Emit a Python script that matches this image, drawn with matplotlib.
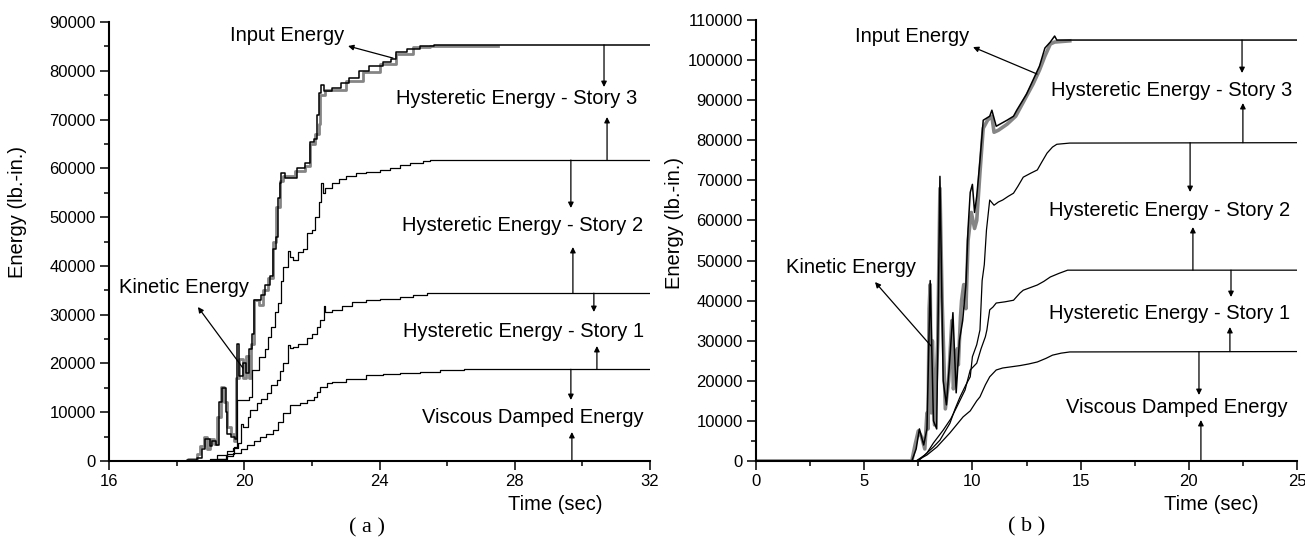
import matplotlib
matplotlib.use("Agg")
import matplotlib.pyplot as plt
from matplotlib.ticker import MultipleLocator

plt.rcParams["font.family"] = ["Liberation Sans", "DejaVu Sans"]

# ── Panel (a): cumulative energies, 16-32 s ─────────────────────────────────────
a_input_t = [16, 18.2, 18.3, 18.6, 18.75, 18.85, 19.0, 19.05, 19.15, 19.25, 19.35, 19.45, 19.5, 19.6,
             19.72, 19.78, 19.85, 19.95, 20.05, 20.15, 20.22, 20.28, 20.5, 20.6, 20.75, 20.85, 20.95,
             21.0, 21.05, 21.1, 21.2, 21.55, 21.8, 21.95, 22.05, 22.15, 22.22, 22.28, 22.35, 22.6,
             22.85, 23.1, 23.4, 23.7, 24.1, 24.35, 24.5, 24.8, 25.2, 25.6, 32]
a_input_e = [0, 0, 300, 600, 2500, 4500, 3000, 4000, 3200, 12000, 15000, 10000, 5500, 5000,
             4500, 24000, 17500, 20000, 18000, 23000, 26000, 33000, 34000, 36000, 38000, 43500, 46000,
             54000, 57000, 59000, 58000, 60000, 61000, 65500, 66000, 71000, 75500, 77000, 75800, 76500,
             77500, 78500, 80000, 81000, 81800, 82500, 83800, 84500, 85000, 85300, 85300]

a_gray_t = [16, 18.2, 18.35, 18.6, 18.7, 18.8, 18.9, 19.0, 19.1, 19.2, 19.3, 19.4, 19.5, 19.6, 19.7,
            19.75, 19.85, 19.95, 20.05, 20.15, 20.2, 20.3, 20.45, 20.55, 20.7, 20.85, 20.95, 21.05,
            21.15, 21.5, 21.8, 21.95, 22.1, 22.2, 22.25, 22.4, 23.0, 23.5, 24.0, 24.5, 25.0, 25.5, 27.5]
a_gray_e = [0, 0, 500, 1500, 3000, 5000, 2500, 4500, 3500, 9000, 15200, 12000, 7000, 5500, 4000,
            17000, 21000, 17000, 21500, 17000, 24000, 33000, 32000, 35000, 37500, 45000, 52000, 57500,
            58500, 59500, 60500, 65000, 67000, 69000, 75000, 76000, 78000, 79800, 81300, 83500, 84800,
            85100, 85100]

a_he2_t = [16, 18.8, 19.2, 19.5, 19.7, 19.8, 20.15, 20.22, 20.45, 20.6, 20.7, 20.8, 20.9, 21.0, 21.1,
           21.15, 21.3, 21.35, 21.45, 21.6, 21.75, 21.85, 22.0, 22.1, 22.2, 22.28, 22.32, 22.4, 22.6,
           22.8, 23.0, 23.3, 23.6, 24.0, 24.3, 24.6, 24.9, 25.3, 25.5, 32]
a_he2_e = [0, 0, 500, 1500, 2900, 12500, 13100, 18700, 21300, 23000, 25400, 27500, 30500, 32400, 37000,
           39800, 43000, 41800, 41200, 42800, 43500, 46700, 47400, 50000, 53000, 57000, 55000, 56000, 57000,
           57800, 58500, 59000, 59300, 59700, 60100, 60600, 61100, 61600, 61700, 61700]

a_he1_t = [16, 18.8, 19.0, 19.2, 19.5, 19.67, 19.82, 19.9, 19.97, 20.1, 20.17, 20.37, 20.5, 20.67,
           20.8, 20.97, 21.05, 21.15, 21.3, 21.35, 21.45, 21.6, 21.85, 22.0, 22.15, 22.25, 22.35, 22.4,
           22.6, 22.9, 23.2, 23.6, 24.0, 24.6, 25.0, 25.4, 32]
a_he1_e = [0, 0, 500, 1200, 2000, 2700, 3700, 7500, 7000, 9000, 10500, 11900, 12800, 13900,
           15500, 16600, 18500, 20100, 23800, 23200, 23400, 24000, 25200, 26000, 27500, 28900, 31800, 30500,
           31000, 31800, 32500, 33000, 33300, 33600, 34000, 34400, 34400]

a_visc_t = [16, 18.9, 19.2, 19.45, 19.67, 19.9, 20.08, 20.3, 20.47, 20.65, 20.85, 21.0, 21.15, 21.35,
            21.65, 21.85, 22.05, 22.15, 22.25, 22.45, 22.6, 23.0, 23.6, 24.1, 24.6, 25.2, 25.8, 26.5, 32]
a_visc_e = [0, 0, 400, 1000, 1600, 2500, 3300, 4200, 4900, 5500, 6300, 8000, 9800, 11500,
            11900, 12500, 13100, 14200, 15200, 16000, 16200, 16900, 17600, 17900, 18000, 18300, 18600, 18800, 18800]

# ── Panel (b): cumulative energies, 0-25 s ──────────────────────────────────────
b_input_t = [0, 7.2, 7.4, 7.55, 7.75, 7.9, 8.05, 8.2, 8.35, 8.5, 8.65, 8.8, 8.95, 9.1, 9.25, 9.4,
             9.55, 9.7, 9.8, 9.9, 10.0, 10.1, 10.2, 10.35, 10.5, 10.8, 10.9, 11.1, 11.6, 11.9, 12.05,
             12.5, 12.8, 13.1, 13.35, 13.6, 13.8, 13.9, 25]
b_input_e = [0, 0, 3000, 8000, 4000, 8000, 45000, 10000, 8000, 71000, 20000, 14000, 25000, 37000, 17000, 30000,
             35000, 44000, 58000, 67000, 69000, 62000, 66000, 75000, 85000, 86000, 87500, 83500, 85000, 86000, 87500,
             91500, 95000, 98500, 103000, 104500, 106000, 105000, 105000]

b_gray_t = [0, 7.2, 7.35, 7.5, 7.65, 7.8, 7.9, 7.95, 8.0, 8.05, 8.1, 8.15, 8.25, 8.4, 8.5, 8.6, 8.75,
            8.9, 9.0, 9.05, 9.12, 9.2, 9.3, 9.35, 9.45, 9.5, 9.6, 9.7, 9.8, 9.95, 10.1, 10.2, 10.35,
            10.5, 10.7, 10.9, 11.0, 11.2, 11.6, 12.0, 12.4, 12.8, 13.1, 13.35, 13.6, 13.8, 14.5]
b_gray_e = [0, 0, 4000, 7500, 6000, 3000, 12000, 8000, 38000, 44000, 12000, 30000, 9000, 30000, 68000, 40000, 13000,
            20000, 30000, 35000, 18000, 20000, 28000, 24000, 36000, 40000, 44000, 38000, 55000, 62000, 58000, 60000, 72000,
            83000, 85000, 86000, 82000, 82500, 84000, 86000, 90000, 94000, 97500, 101000, 104000, 104500, 104800]

b_he2_t = [0, 7.4, 7.8, 8.2, 8.5, 8.75, 8.96, 9.2, 9.43, 9.7, 9.9, 10.0, 10.2, 10.35, 10.45, 10.55, 10.65,
           10.8, 11.0, 11.2, 11.4, 11.65, 11.9, 12.1, 12.35, 12.7, 13.0, 13.2, 13.45, 13.7, 13.9, 14.5, 25]
b_he2_e = [0, 0, 1500, 3500, 5200, 7500, 9400, 13000, 16000, 19000, 21000, 26000, 29000, 32700, 45000, 49000, 57600,
           65100, 63800, 64600, 65100, 66000, 66800, 68500, 70800, 71800, 72600, 74500, 76800, 78300, 79000, 79300, 79400]

b_he1_t = [0, 7.5, 7.9, 8.2, 8.65, 9.0, 9.28, 9.66, 9.9, 10.2, 10.4, 10.6, 10.67, 10.8, 10.95, 11.1, 11.5,
           11.9, 12.2, 12.35, 13.0, 13.3, 13.6, 14.0, 14.4, 25]
b_he1_e = [0, 0, 2000, 4500, 7700, 10500, 13500, 17700, 22700, 24400, 28000, 31000, 32700, 37700, 38400, 39400, 39700,
           40100, 41900, 42600, 43900, 44800, 45900, 46800, 47600, 47600]

b_visc_t = [0, 7.4, 7.9, 8.36, 8.96, 9.57, 9.9, 10.2, 10.35, 10.6, 10.8, 11.1, 11.4, 12.2, 12.6, 13.0,
            13.4, 13.7, 14.1, 14.5, 25]
b_visc_e = [0, 0, 1500, 3500, 7000, 11000, 12500, 15000, 16000, 19000, 21000, 22700, 23200, 23800, 24200, 24700,
            25600, 26400, 26900, 27200, 27300]

GRAY = "#858585"
W, H = 1305, 538


def style_axes(ax, xlim, ylim, xmaj, xmin):
    ax.set_xlim(*xlim)
    ax.set_ylim(*ylim)
    ax.xaxis.set_major_locator(MultipleLocator(xmaj))
    ax.xaxis.set_minor_locator(MultipleLocator(xmin))
    ax.yaxis.set_major_locator(MultipleLocator(10000))
    ax.yaxis.set_minor_locator(MultipleLocator(5000))
    for s in ["top", "right"]:
        ax.spines[s].set_visible(False)
    for s in ["left", "bottom"]:
        ax.spines[s].set_linewidth(1.5)
    ax.tick_params(which="major", direction="out", length=6.5, width=1.1, labelsize=12, pad=3)
    ax.tick_params(which="minor", direction="out", length=3.5, width=1.1)


def arrow(ax, head, tail):
    ax.annotate("", xy=head, xytext=tail,
                arrowprops=dict(arrowstyle="-|>", color="black", lw=0.9, mutation_scale=8,
                                shrinkA=0, shrinkB=0))


fig = plt.figure(figsize=(W / 100, H / 100), dpi=100)

# ── (a) ──────────────────────────────────────────────────────────────────────────
ax1 = fig.add_axes([109 / W, 77 / H, 541 / W, 439 / H])
ax1.plot(a_gray_t, a_gray_e, color=GRAY, lw=2.0, drawstyle="steps-post")
ax1.plot(a_input_t, a_input_e, color="black", lw=1.1, drawstyle="steps-post")
for t, e in [(a_he2_t, a_he2_e), (a_he1_t, a_he1_e), (a_visc_t, a_visc_e)]:
    ax1.plot(t, e, color="black", lw=0.9, drawstyle="steps-post")
style_axes(ax1, (16, 32), (0, 90000), 4, 2)

fs = 14.5
ax1.text(21.26, 87330, "Input Energy", ha="center", va="center", fontsize=fs)
arrow(ax1, (23.07, 85080), (24.40, 82600))
ax1.text(28.07, 74400, "Hysteretic Energy - Story 3", ha="center", va="center", fontsize=fs)
arrow(ax1, (30.64, 76670), (30.64, 85300))
arrow(ax1, (30.73, 70520), (30.73, 61700))
ax1.text(28.24, 48180, "Hysteretic Energy - Story 2", ha="center", va="center", fontsize=fs)
arrow(ax1, (29.66, 51870), (29.66, 61700))
arrow(ax1, (29.72, 43870), (29.72, 34400))
ax1.text(28.27, 26650, "Hysteretic Energy - Story 1", ha="center", va="center", fontsize=fs)
arrow(ax1, (30.34, 30545), (30.34, 34400))
arrow(ax1, (30.43, 23575), (30.43, 18800))
ax1.text(28.54, 9020, "Viscous Damped Energy", ha="center", va="center", fontsize=fs)
arrow(ax1, (29.66, 12505), (29.66, 18800))
arrow(ax1, (29.69, 5945), (29.69, 0))
ax1.text(18.22, 35670, "Kinetic Energy", ha="center", va="center", fontsize=fs)
arrow(ax1, (18.63, 31570), (19.96, 19065))

# ── (b) ──────────────────────────────────────────────────────────────────────────
ax2 = fig.add_axes([756 / W, 77 / H, 541 / W, 441 / H])
ax2.plot(b_gray_t, b_gray_e, color=GRAY, lw=2.6)
ax2.plot(b_input_t, b_input_e, color="black", lw=1.1)
for t, e in [(b_he2_t, b_he2_e), (b_he1_t, b_he1_e), (b_visc_t, b_visc_e)]:
    ax2.plot(t, e, color="black", lw=0.9)
style_axes(ax2, (0, 25), (0, 110000), 5, 2.5)

ax2.text(7.21, 106000, "Input Energy", ha="center", va="center", fontsize=fs)
arrow(ax2, (10.03, 103250), (12.99, 96520))
ax2.text(19.22, 92530, "Hysteretic Energy - Story 3", ha="center", va="center", fontsize=fs)
arrow(ax2, (22.46, 96770), (22.46, 105000))
arrow(ax2, (22.50, 89290), (22.50, 79400))
ax2.text(19.13, 62600, "Hysteretic Energy - Story 2", ha="center", va="center", fontsize=fs)
arrow(ax2, (20.06, 67090), (20.06, 79400))
arrow(ax2, (20.19, 58360), (20.19, 47600))
ax2.text(19.09, 36910, "Hysteretic Energy - Story 1", ha="center", va="center", fontsize=fs)
arrow(ax2, (21.95, 40900), (21.95, 47600))
arrow(ax2, (21.90, 33420), (21.90, 27300))
ax2.text(19.45, 13220, "Viscous Damped Energy", ha="center", va="center", fontsize=fs)
arrow(ax2, (20.47, 16460), (20.47, 27300))
arrow(ax2, (20.56, 10225), (20.56, 0))
ax2.text(4.39, 48380, "Kinetic Energy", ha="center", va="center", fontsize=fs)
arrow(ax2, (5.50, 44640), (8.09, 28680))

# ── Axis labels and captions ─────────────────────────────────────────────────────
fig.text(18 / W, 1 - 212 / H, "Energy (lb.-in.)", rotation=90, ha="center", va="center", fontsize=fs)
fig.text(675 / W, 1 - 223 / H, "Energy (lb.-in.)", rotation=90, ha="center", va="center", fontsize=fs)
fig.text(555 / W, 1 - 505 / H, "Time (sec)", ha="center", va="center", fontsize=fs)
fig.text(1211 / W, 1 - 505 / H, "Time (sec)", ha="center", va="center", fontsize=fs)
fig.text(367 / W, 1 - 528 / H, "( a )", ha="center", va="center", fontsize=16, family="Liberation Serif")
fig.text(1027 / W, 1 - 527 / H, "( b )", ha="center", va="center", fontsize=16, family="Liberation Serif")

fig.savefig("out.png", dpi=100)
